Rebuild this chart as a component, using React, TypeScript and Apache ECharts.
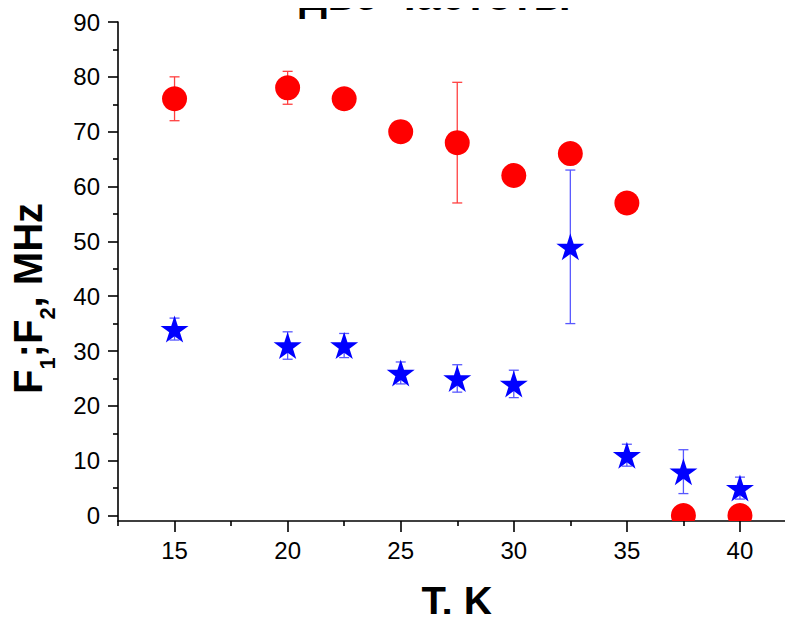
import React, { useEffect, useRef } from "react";
import * as echarts from "echarts";

// Temperature points, K
const T = [15, 20, 22.5, 25, 27.5, 30, 32.5, 35, 37.5, 40];
// First frequency F1, MHz, and its error half-width
const F1 = [76, 78, 76, 70, 68, 62, 66, 57, 0, 0];
const F1Err = [4, 3, 0, 0, 11, 0, 0, 0, 0, 0];
// Second frequency F2, MHz, and its error half-width
const F2 = [34, 31, 31, 26, 25, 24, 49, 11, 8, 5];
const F2Err = [2, 2.5, 2.2, 2, 2.5, 2.5, 14, 2, 4, 2];

// Tick positions
const xMajor = [15, 20, 25, 30, 35, 40];
const xMinor = [12.5, 17.5, 22.5, 27.5, 32.5, 37.5, 42.5];
const yMajor = [0, 10, 20, 30, 40, 50, 60, 70, 80, 90];
const yMinor = [5, 15, 25, 35, 45, 55, 65, 75, 85];

const FONT = "'Liberation Sans', Arial, Helvetica, sans-serif";

const STAR =
  "path://M50 0 L61.23 34.55 L97.55 34.55 L68.16 55.9 L79.39 90.45 L50 69.1 L20.61 90.45 L31.84 55.9 L2.45 34.55 L38.77 34.55 Z";

function errorRows(vals: number[], errs: number[]) {
  return T.map((t, i) => [t, vals[i] - errs[i], vals[i] + errs[i]]).filter(
    (_, i) => errs[i] > 0
  );
}

function errorBarRenderer(color: string) {
  return (params: any, api: any) => {
    const x = api.value(0);
    const lo = api.coord([x, api.value(1)]);
    const hi = api.coord([x, api.value(2)]);
    const w = 5;
    const style = { stroke: color, lineWidth: 1.3 };
    return {
      type: "group",
      children: [
        { type: "line", shape: { x1: lo[0], y1: lo[1], x2: hi[0], y2: hi[1] }, style },
        { type: "line", shape: { x1: lo[0] - w, y1: lo[1], x2: lo[0] + w, y2: lo[1] }, style },
        { type: "line", shape: { x1: hi[0] - w, y1: hi[1], x2: hi[0] + w, y2: hi[1] }, style },
      ],
    };
  };
}

function txt(text: string, x: number, y: number, size: number) {
  return {
    type: "text",
    x,
    y,
    style: {
      text,
      fill: "#000",
      fontSize: size,
      fontWeight: "bold",
      fontFamily: FONT,
      align: "left",
      textAlign: "left",
      verticalAlign: "middle",
      textVerticalAlign: "middle",
    },
  };
}

export default function App() {
  const ref = useRef<HTMLDivElement>(null);

  useEffect(() => {
    if (!ref.current) return;
    const chart = echarts.init(ref.current, undefined, { renderer: "svg" });

    const axisLine = { show: true, onZero: false, lineStyle: { color: "#000", width: 1.6 } };
    const tickStyle = { color: "#000", width: 1.6 };
    const labelStyle = { color: "#000", fontSize: 24, fontFamily: FONT };

    const option: any = {
      animation: false,
      backgroundColor: "#fff",
      grid: {
        left: 118,
        top: 22,
        right: -3.5,
        bottom: 101,
        containLabel: false,
        outerBoundsMode: "none",
      },
      xAxis: [
        {
          type: "value",
          min: 12.5,
          max: 42.5,
          position: "bottom",
          axisLine,
          axisTick: { show: true, customValues: xMajor, length: 11, lineStyle: tickStyle },
          axisLabel: { ...labelStyle, customValues: xMajor, margin: 17 },
          splitLine: { show: false },
        },
        {
          type: "value",
          min: 12.5,
          max: 42.5,
          position: "bottom",
          axisLine: { show: false, onZero: false },
          axisTick: { show: true, customValues: xMinor, length: 5, lineStyle: tickStyle },
          axisLabel: { show: false },
          splitLine: { show: false },
        },
      ],
      yAxis: [
        {
          type: "value",
          min: -1,
          max: 90,
          position: "left",
          axisLine,
          axisTick: { show: true, customValues: yMajor, length: 10, lineStyle: tickStyle },
          axisLabel: { ...labelStyle, customValues: yMajor, margin: 18 },
          splitLine: { show: false },
        },
        {
          type: "value",
          min: -1,
          max: 90,
          position: "left",
          axisLine: { show: false, onZero: false },
          axisTick: { show: true, customValues: yMinor, length: 5, lineStyle: tickStyle },
          axisLabel: { show: false },
          splitLine: { show: false },
        },
      ],
      series: [
        {
          type: "custom",
          name: "F2 error",
          renderItem: errorBarRenderer("#5858ff"),
          data: errorRows(F2, F2Err),
          encode: { x: 0, y: [1, 2] },
          z: 1,
          silent: true,
        },
        {
          type: "custom",
          name: "F1 error",
          renderItem: errorBarRenderer("#ff4040"),
          data: errorRows(F1, F1Err),
          encode: { x: 0, y: [1, 2] },
          z: 1,
          silent: true,
        },
        {
          type: "scatter",
          name: "F2",
          symbol: STAR,
          symbolSize: [28, 27],
          itemStyle: { color: "#0000ff", opacity: 1 },
          data: T.map((t, i) => [t, F2[i]]),
          z: 3,
        },
        {
          type: "custom",
          name: "F1",
          clip: true,
          renderItem: (params: any, api: any) => {
            const p = api.coord([api.value(0), api.value(1)]);
            return {
              type: "circle",
              shape: { cx: p[0], cy: p[1], r: 12.5 },
              style: { fill: "#ff0000" },
            };
          },
          data: T.map((t, i) => [t, F1[i]]),
          encode: { x: 0, y: 1 },
          z: 4,
        },
      ],
      graphic: [
        {
          type: "text",
          x: 435,
          y: -6,
          style: {
            text: "две частоты",
            fill: "#000",
            fontSize: 44,
            fontWeight: "bold",
            fontFamily: FONT,
            align: "center",
            textAlign: "center",
            verticalAlign: "middle",
            textVerticalAlign: "middle",
          },
        },
        {
          type: "text",
          x: 457,
          y: 601,
          style: {
            text: "T, K",
            fill: "#000",
            fontSize: 40,
            fontWeight: "bold",
            fontFamily: FONT,
            align: "center",
            textAlign: "center",
            verticalAlign: "middle",
            textVerticalAlign: "middle",
          },
        },
        {
          type: "group",
          x: 28,
          y: 394,
          rotation: Math.PI / 2,
          children: [
            txt("F", 0, 0, 40),
            txt("1", 24.4, 19.4, 22),
            txt(";F", 36.6, 0, 40),
            txt("2", 74.4, 19.4, 22),
            txt(", MHz", 86.6, 0, 40),
          ],
        },
      ],
    };

    chart.setOption(option);
    return () => chart.dispose();
  }, []);

  return <div ref={ref} style={{ width: 793, height: 622, margin: -8 }} />;
}
